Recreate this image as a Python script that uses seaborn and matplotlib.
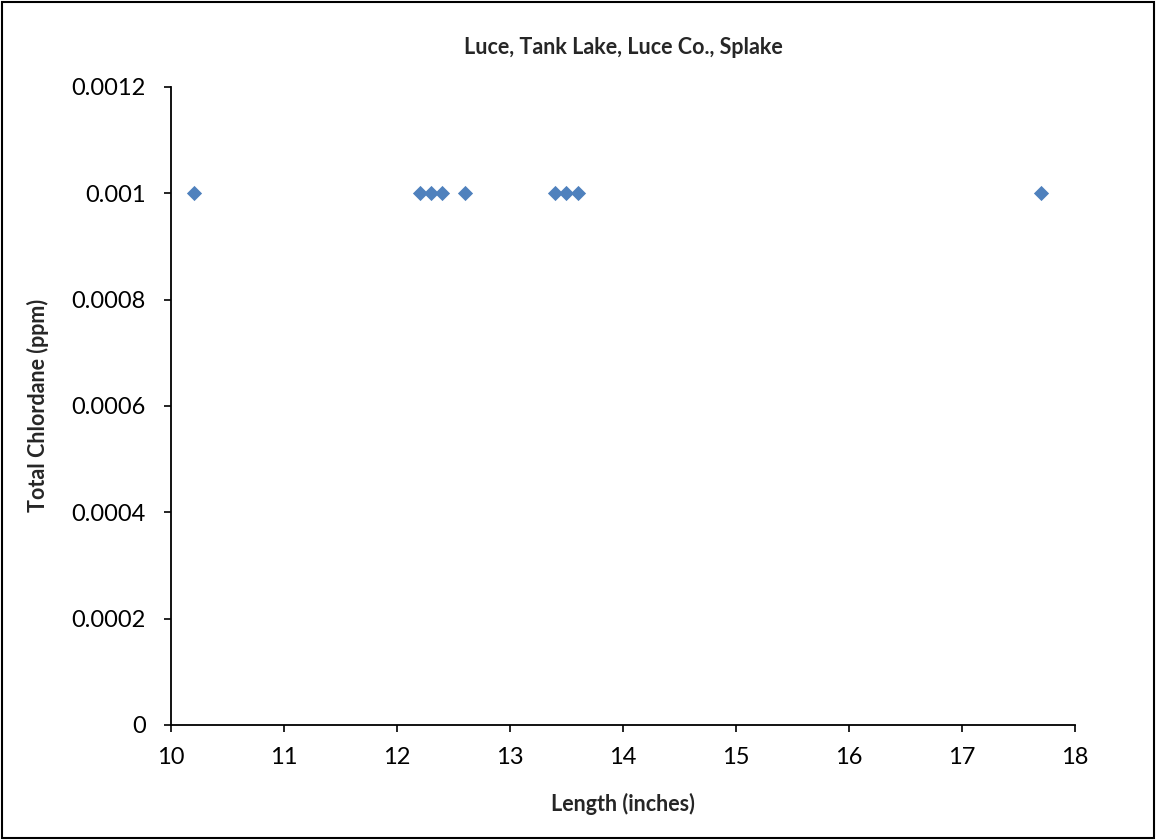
import matplotlib
matplotlib.use("Agg")
import matplotlib.pyplot as plt
import seaborn as sns
import pandas as pd
from matplotlib.patches import Rectangle

length = [10.2, 12.2, 12.3, 12.4, 12.6, 13.4, 13.5, 13.6, 17.7]
chlordane = [0.001, 0.001, 0.001, 0.001, 0.001, 0.001, 0.001, 0.001, 0.001]
x_ticks = [10, 11, 12, 13, 14, 15, 16, 17, 18]
y_ticks = [0, 0.0002, 0.0004, 0.0006, 0.0008, 0.001, 0.0012]
y_labels = ["0", "0.0002", "0.0004", "0.0006", "0.0008", "0.001", "0.0012"]

sns.set_style("ticks")
plt.rcParams['font.family'] = ['Lato', 'DejaVu Sans']

df = pd.DataFrame({"Length": length, "Chlordane": chlordane})

fig = plt.figure(figsize=(11.56, 8.4), dpi=100)
ax = fig.add_axes([0.1479, 0.137, 0.782, 0.7595])
sns.scatterplot(data=df, x="Length", y="Chlordane", marker="D", s=60,
                color="#4F81BD", edgecolor="#4F81BD", linewidth=0, ax=ax)

ax.set_xlim(10, 18)
ax.set_ylim(0, 0.0012)
ax.set_xticks(x_ticks)
ax.set_xticklabels([str(t) for t in x_ticks])
ax.set_yticks(y_ticks)
ax.set_yticklabels(y_labels)
ax.tick_params(axis='both', direction='out', length=5, width=1.2, labelsize=17, colors='black')
ax.tick_params(axis='x', pad=11)
ax.tick_params(axis='y', pad=13)
for s in ["left", "bottom"]:
    ax.spines[s].set_linewidth(1.3)
    ax.spines[s].set_color("black")
sns.despine(ax=ax)

ax.set_xlabel("Length (inches)", fontsize=15.5, fontweight='bold', labelpad=18)
ax.set_ylabel("Total Chlordane (ppm)", fontsize=15.5, fontweight='bold', labelpad=16)
ax.set_title("Luce, Tank Lake, Luce Co., Splake", fontsize=15.5, fontweight='bold', pad=24)

fig.patches.append(Rectangle((0.002, 0.002), 0.996, 0.996, transform=fig.transFigure,
                             fill=False, edgecolor='black', linewidth=1.5))

fig.savefig("out.png", dpi=100)
